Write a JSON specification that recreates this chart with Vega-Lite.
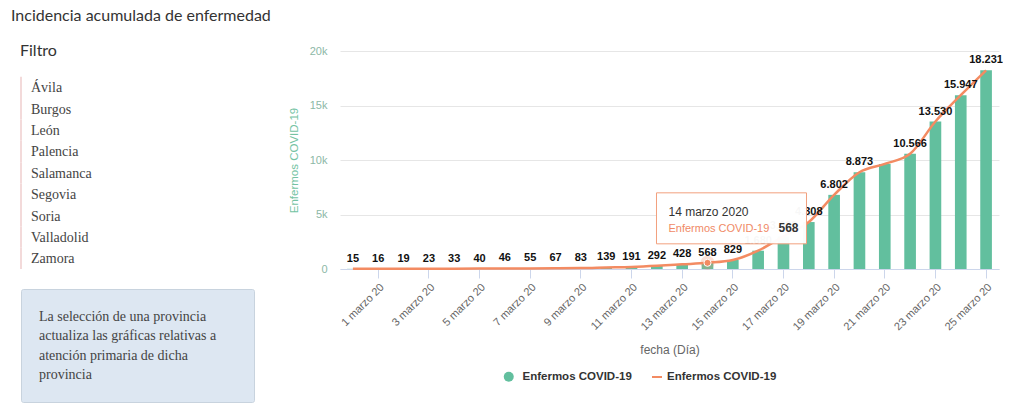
{
  "$schema": "https://vega.github.io/schema/vega-lite/v6.json",
  "padding": {"left": 11, "top": 8, "right": 0, "bottom": 0},
  "background": "white",
  "title": {"text": "Incidencia acumulada de enfermedad", "anchor": "start", "font": "Lato", "fontSize": 16, "fontWeight": "normal", "color": "#333333", "dx": -9, "offset": 19},
  "config": {
    "font": "Liberation Sans",
    "view": {"stroke": null},
    "locale": {"number": {"decimal": ",", "thousands": ".", "grouping": [3], "currency": ["", " €"]}}
  },
  "datasets": {
    "serie": [
      {"fecha": "2020-02-29", "valor": 15},
      {"fecha": "2020-03-01", "valor": 16},
      {"fecha": "2020-03-02", "valor": 19},
      {"fecha": "2020-03-03", "valor": 23},
      {"fecha": "2020-03-04", "valor": 33},
      {"fecha": "2020-03-05", "valor": 40},
      {"fecha": "2020-03-06", "valor": 46},
      {"fecha": "2020-03-07", "valor": 55},
      {"fecha": "2020-03-08", "valor": 67},
      {"fecha": "2020-03-09", "valor": 83},
      {"fecha": "2020-03-10", "valor": 139},
      {"fecha": "2020-03-11", "valor": 191},
      {"fecha": "2020-03-12", "valor": 292},
      {"fecha": "2020-03-13", "valor": 428},
      {"fecha": "2020-03-14", "valor": 568},
      {"fecha": "2020-03-15", "valor": 829},
      {"fecha": "2020-03-16", "valor": 1680},
      {"fecha": "2020-03-17", "valor": 3000},
      {"fecha": "2020-03-18", "valor": 4308},
      {"fecha": "2020-03-19", "valor": 6802},
      {"fecha": "2020-03-20", "valor": 8873},
      {"fecha": "2020-03-21", "valor": 9640},
      {"fecha": "2020-03-22", "valor": 10566},
      {"fecha": "2020-03-23", "valor": 13530},
      {"fecha": "2020-03-24", "valor": 15947},
      {"fecha": "2020-03-25", "valor": 18231}
    ],
    "provincias": [
      {"provincia": "Ávila"},
      {"provincia": "Burgos"},
      {"provincia": "León"},
      {"provincia": "Palencia"},
      {"provincia": "Salamanca"},
      {"provincia": "Segovia"},
      {"provincia": "Soria"},
      {"provincia": "Valladolid"},
      {"provincia": "Zamora"}
    ],
    "nota": [
      {"texto": "La selección de una provincia\nactualiza las gráficas relativas a\natención primaria de dicha\nprovincia"}
    ]
  },
  "bounds": "flush",
  "columns": 2,
  "spacing": {"row": 20, "column": 86},
  "concat": [
    {
      "width": 233,
      "height": 218,
      "title": {"text": "Filtro", "anchor": "start", "font": "Lato", "fontSize": 16, "fontWeight": "normal", "color": "#333333", "baseline": "alphabetic", "offset": -21},
      "data": {"name": "provincias"},
      "encoding": {
        "y": {"field": "provincia", "type": "nominal", "sort": null, "scale": {"paddingInner": 0, "paddingOuter": 0.6, "align": 1}, "axis": null},
        "x": {"datum": 0, "type": "quantitative", "scale": {"domain": [0, 1]}, "axis": null}
      },
      "layer": [
        {
          "mark": {"type": "rect", "stroke": "#f3dada", "strokeWidth": 2, "fill": null},
          "encoding": {"x2": {"datum": 0}}
        },
        {
          "mark": {"type": "text", "align": "left", "baseline": "middle", "dx": 10, "dy": 1, "font": "Liberation Serif", "fontSize": 14, "color": "#444444"},
          "encoding": {"text": {"field": "provincia"}}
        }
      ]
    },
    {
      "width": 659,
      "height": 218,
      "data": {"name": "serie"},
      "encoding": {
        "x": {
          "field": "fecha", "type": "ordinal",
          "scale": {"paddingInner": 0.54, "paddingOuter": 0.28},
          "axis": {
            "title": "fecha (Día)",
            "values": ["2020-03-01", "2020-03-03", "2020-03-05", "2020-03-07", "2020-03-09", "2020-03-11", "2020-03-13", "2020-03-15", "2020-03-17", "2020-03-19", "2020-03-21", "2020-03-23", "2020-03-25"],
            "labelExpr": "toNumber(slice(datum.value, 8)) + ' marzo ' + slice(datum.value, 2, 4)",
            "labelAngle": -45, "labelFontSize": 11, "labelColor": "#666666", "labelPadding": 3,
            "tickColor": "#ccd6eb", "tickSize": 9, "domainColor": "#ccd6eb",
            "titleFontSize": 12, "titleFontWeight": "normal", "titleColor": "#666666", "titlePadding": 12,
            "grid": false
          }
        },
        "y": {
          "field": "valor", "type": "quantitative",
          "scale": {"domain": [0, 20000], "nice": false},
          "axis": {
            "title": "Enfermos COVID-19",
            "values": [0, 5000, 10000, 15000, 20000],
            "format": "~s",
            "labelExpr": "datum.value == 0 ? '0' : datum.label",
            "labelColor": "#8cb8a6", "labelFontSize": 11, "labelPadding": 13,
            "ticks": false, "domain": false,
            "gridColor": "#e6e6e6",
            "titleColor": "#74c3a3", "titleFontSize": 11.5, "titleFontWeight": "normal", "titlePadding": 10
          }
        }
      },
      "layer": [
        {
          "mark": {"type": "bar"},
          "encoding": {
            "fill": {
              "datum": "Enfermos COVID-19",
              "scale": {"range": ["#62bf9e"]},
              "legend": {"orient": "none", "legendX": 482, "legendY": 320, "title": null, "symbolType": "circle", "symbolSize": 100, "symbolStrokeWidth": 0, "labelFont": "Liberation Sans", "labelFontSize": 11.5, "labelFontWeight": "bold", "labelColor": "#333333", "labelOffset": 8, "padding": 0}
            }
          }
        },
        {
          "mark": {"type": "line", "interpolate": "monotone", "strokeWidth": 2.5},
          "encoding": {
            "stroke": {
              "datum": "Enfermos COVID-19 (línea)",
              "scale": {"range": ["#f38b62"]},
              "legend": {"orient": "none", "legendX": 630, "legendY": 320, "title": null, "labelExpr": "'Enfermos COVID-19'", "symbolType": "stroke", "symbolSize": 100, "symbolStrokeWidth": 2, "labelFont": "Liberation Sans", "labelFontSize": 11.5, "labelFontWeight": "bold", "labelColor": "#333333", "labelOffset": 4, "padding": 0}
            }
          }
        },
        {
          "transform": [{"filter": "datum.fecha != '2020-03-21'"}],
          "mark": {"type": "text", "baseline": "middle", "dy": -10, "fontSize": 11, "fontWeight": "bold", "color": "#111111"},
          "encoding": {"text": {"field": "valor", "type": "quantitative", "format": ",d"}}
        },
        {
          "transform": [{"filter": "datum.fecha == '2020-03-14'"}],
          "mark": {"type": "point", "filled": true, "size": 200, "color": "#f38b62", "opacity": 0.25}
        },
        {
          "transform": [{"filter": "datum.fecha == '2020-03-14'"}],
          "mark": {"type": "point", "filled": true, "size": 50, "color": "#f38b62", "opacity": 1, "stroke": "white", "strokeWidth": 1}
        },
        {
          "transform": [{"filter": "datum.fecha == '2020-03-14'"}],
          "mark": {"type": "point", "shape": "M-0.68,-0.933H1.32V-0.253H-0.68Z", "size": 22500, "filled": true, "fill": "white", "fillOpacity": 0.97, "opacity": 1, "stroke": "#f2a07e", "strokeWidth": 1}
        },
        {
          "transform": [{"filter": "datum.fecha == '2020-03-14'"}],
          "mark": {"type": "text", "align": "left", "baseline": "alphabetic", "dx": -39, "dy": -47, "fontSize": 12, "color": "#333333", "text": {"expr": "toNumber(slice(datum.fecha, 8)) + ' marzo ' + slice(datum.fecha, 0, 4)"}}
        },
        {
          "transform": [{"filter": "datum.fecha == '2020-03-14'"}],
          "mark": {"type": "text", "align": "left", "baseline": "alphabetic", "dx": -39, "dy": -31, "fontSize": 11, "color": "#f08a66", "text": "Enfermos COVID-19"}
        },
        {
          "transform": [{"filter": "datum.fecha == '2020-03-14'"}],
          "mark": {"type": "text", "align": "left", "baseline": "alphabetic", "dx": 71, "dy": -31, "fontSize": 12, "fontWeight": "bold", "color": "#333333"},
          "encoding": {"text": {"field": "valor", "type": "quantitative", "format": ",d"}}
        }
      ]
    },
    {
      "width": 233,
      "height": 113,
      "data": {"name": "nota"},
      "view": {"fill": "#dde7f2", "stroke": "#c8d3de", "strokeWidth": 1, "cornerRadius": 2},
      "mark": {"type": "text", "align": "left", "baseline": "middle", "dx": 18, "dy": -29, "lineBreak": "\n", "lineHeight": 19.5, "font": "Liberation Serif", "fontSize": 14, "color": "#444444"},
      "encoding": {
        "text": {"field": "texto"},
        "x": {"datum": 0, "type": "quantitative", "scale": {"domain": [0, 1]}, "axis": null}
      }
    }
  ]
}
